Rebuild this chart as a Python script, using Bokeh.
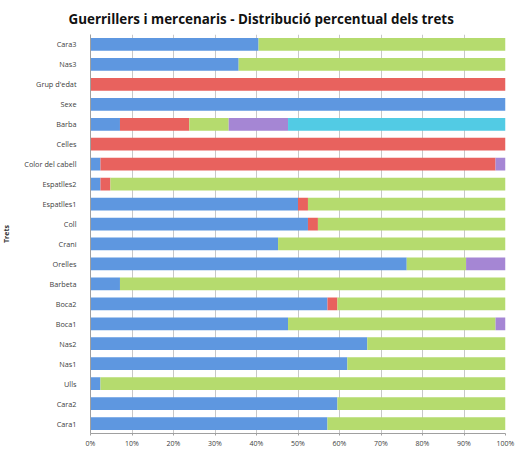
from bokeh.plotting import figure
from bokeh.models import FactorRange, PrintfTickFormatter, ColumnDataSource, FixedTicker
from bokeh.embed import file_html
from bokeh.resources import INLINE

# Traits listed top to bottom as in the chart
traits = ["Cara3", "Nas3", "Grup d'edat", "Sexe", "Barba", "Celles", "Color del cabell",
          "Espatlles2", "Espatlles1", "Coll", "Crani", "Orelles", "Barbeta", "Boca2",
          "Boca1", "Nas2", "Nas1", "Ulls", "Cara2", "Cara1"]

# Percentage of each category (stack order: blue, red, green, purple, cyan)
cat1 = [40.5, 35.7, 0, 100, 7.1, 0, 2.4, 2.4, 50.0, 52.4, 45.2, 76.2, 7.1, 57.1, 47.6, 66.7, 61.9, 2.4, 59.5, 57.1]
cat2 = [0, 0, 100, 0, 16.7, 100, 95.2, 2.4, 2.4, 2.4, 0, 0, 0, 2.4, 0, 0, 0, 0, 0, 0]
cat3 = [59.5, 64.3, 0, 0, 9.5, 0, 0, 95.2, 47.6, 45.2, 54.8, 14.3, 92.9, 40.5, 50.0, 33.3, 38.1, 97.6, 40.5, 42.9]
cat4 = [0, 0, 0, 0, 14.3, 0, 2.4, 0, 0, 0, 0, 9.5, 0, 0, 2.4, 0, 0, 0, 0, 0]
cat5 = [0, 0, 0, 0, 52.4, 0, 0, 0, 0, 0, 0, 0, 0, 0, 0, 0, 0, 0, 0, 0]

x_ticks = list(range(0, 101, 10))

series = ["c1", "c2", "c3", "c4", "c5"]
colors = ["#5e97e0", "#e8625e", "#b5db6e", "#a586d4", "#52cbe4"]

source = ColumnDataSource(dict(trait=traits, c1=cat1, c2=cat2, c3=cat3, c4=cat4, c5=cat5))

p = figure(width=519, height=454, output_backend="svg", toolbar_location=None,
           y_range=FactorRange(factors=list(reversed(traits)), range_padding=0),
           x_range=(0, 100),
           title="Guerrillers i mercenaris - Distribució percentual dels trets",
           min_border_left=94, min_border_right=10, min_border_top=38, min_border_bottom=17,
           margin=(-4, 0, 0, -4))

p.hbar_stack(series, y="trait", height=0.64, color=colors, line_color=None, source=source)

p.title.align = "left"
p.title.text_font = "Open Sans"
p.title.text_font_style = "bold"
p.title.text_font_size = "13.4px"
p.title.text_color = "#111111"
p.title.offset = -22
p.title.standoff = 13

p.outline_line_color = None
p.background_fill_color = "white"
p.border_fill_color = "white"

p.xgrid.grid_line_color = "#c8c8c8"
p.xgrid.ticker = FixedTicker(ticks=x_ticks)
p.ygrid.grid_line_color = None

p.xaxis.ticker = FixedTicker(ticks=x_ticks)
p.xaxis.formatter = PrintfTickFormatter(format="%d%%")
p.xaxis.major_label_text_font = "Open Sans"
p.xaxis.major_label_text_font_size = "7px"
p.xaxis.major_label_text_color = "#404040"
p.xaxis.axis_line_color = "#a0a0a0"
p.xaxis.major_tick_line_color = "#a0a0a0"
p.xaxis.major_tick_out = 2
p.xaxis.major_tick_in = 0
p.xaxis.minor_tick_line_color = None
p.xaxis.major_label_standoff = 3

p.yaxis.major_label_text_font = "Open Sans"
p.yaxis.major_label_text_font_size = "7.3px"
p.yaxis.major_label_text_color = "#404040"
p.yaxis.axis_line_color = "#a0a0a0"
p.yaxis.major_tick_line_color = None
p.yaxis.major_label_standoff = 8
p.yaxis.axis_label = "Trets"
p.yaxis.axis_label_text_font = "Open Sans"
p.yaxis.axis_label_text_font_style = "bold"
p.yaxis.axis_label_text_font_size = "7px"
p.yaxis.axis_label_text_color = "#333333"
p.yaxis.axis_label_standoff = 10

open("out.html", "w").write(file_html(p, INLINE))
